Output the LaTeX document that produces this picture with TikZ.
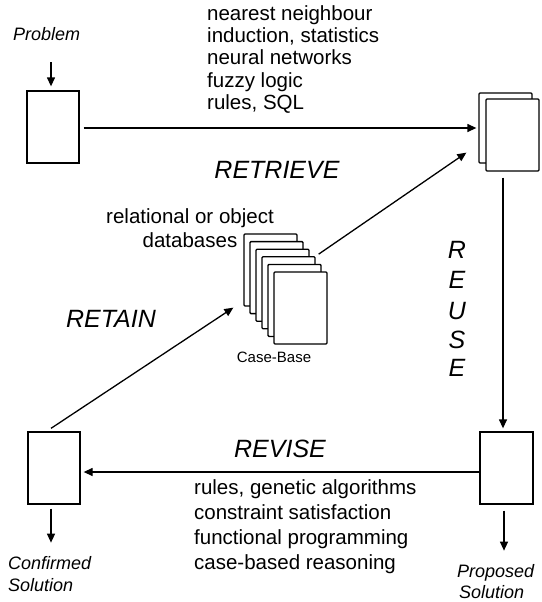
\documentclass[tikz,border=0pt]{standalone}
\usepackage{fontspec}
\setmainfont{Liberation Sans}
\usetikzlibrary{arrows.meta}
\begin{document}
\begin{tikzpicture}[x=1pt,y=-1pt,
  box/.style={draw, line width=1.3pt, fill=white, inner sep=0pt, minimum width=52pt, minimum height=72pt},
  card/.style={box, minimum width=53pt, minimum height=72pt, rounded corners=1pt},
  arr/.style={line width=1.3pt, -{Triangle[length=9pt,width=8pt]}},
  head/.style={inner sep=0pt, font=\fontsize{25}{30}\selectfont\itshape},
  body/.style={inner sep=0pt, font=\fontsize{20.5}{24}\selectfont},
  lab/.style={inner sep=0pt, font=\fontsize{18}{22}\selectfont\itshape},
  cbl/.style={inner sep=0pt, font=\fontsize{15}{18}\selectfont}]
\useasboundingbox (0,0) rectangle (541,602);

% boxes
\node[box] (prob) at (53,127) {};
\node[box] (conf) at (54,468) {};
\node[box, minimum width=53pt] (prop) at (506.5,468) {};
\node[card, minimum height=70pt] (rb) at (505.5,128) {};
\node[card] (rf) at (512.5,135) {};

% case-base stack
\node[card] (c1) at (270.5,270) {};
\node[card] (c2) at (276.5,277.6) {};
\node[card] (c3) at (282.5,285.2) {};
\node[card] (c4) at (288.5,292.8) {};
\node[card] (c5) at (294.5,300.4) {};
\node[card] (c6) at (300.5,308) {};

% labels
\node[lab, anchor=base west] (problab) at (13,41) {Problem};
\node[lab, anchor=base west] (conf1) at (8,569) {Confirmed};
\node[lab, anchor=base west] (conf2) at (8,591) {Solution};
\node[lab, anchor=base west] (prop1) at (457,577) {Proposed};
\node[lab, anchor=base west] (prop2) at (459,598) {Solution};

\node[body, anchor=base west] (t1) at (207,21) {nearest neighbour};
\node[body, anchor=base west] (t2) at (207,43) {induction, statistics};
\node[body, anchor=base west] (t3) at (207,65) {neural networks};
\node[body, anchor=base west] (t4) at (207,87) {fuzzy logic};
\node[body, anchor=base west] (t5) at (207,109) {rules, SQL};

\node[body, anchor=base west] (b1) at (194,494) {rules, genetic algorithms};
\node[body, anchor=base west] (b2) at (194,519) {constraint satisfaction};
\node[body, anchor=base west] (b3) at (194,544) {functional programming};
\node[body, anchor=base west] (b4) at (194,569) {case-based reasoning};

\node[body, anchor=base] (rel1) at (190,223) {relational or object};
\node[body, anchor=base] (rel2) at (190,247) {databases};
\node[cbl, anchor=base] (cblab) at (274,362) {Case-Base};

\node[head] (retrieve) at (277,170) {RETRIEVE};
\node[head] (retain) at (111,319) {RETAIN};
\node[head] (revise) at (280,449) {REVISE};
\node[head] (u1) at (457,250) {R};
\node[head] (u2) at (457,280) {E};
\node[head] (u3) at (457,311) {U};
\node[head] (u4) at (457,340) {S};
\node[head] (u5) at (457,368) {E};

% connectors
\draw[arr] ([xshift=-2pt,yshift=28pt]prob.north) -- ([xshift=-2pt,yshift=4pt]prob.north);
\draw[arr] ([xshift=4pt,yshift=-1pt]prob.east) -- ([xshift=-2pt]rb.west);
\draw[arr] ([xshift=3pt,yshift=2pt]c4.north east) -- ([xshift=-12pt,yshift=11pt]rb.south west);
\draw[arr] ([xshift=-9.5pt,yshift=-6pt]rf.south) -- ([xshift=-3.5pt,yshift=3pt]prop.north);
\draw[arr] ([yshift=-4pt]prop.west) -- ([xshift=3pt,yshift=-4pt]conf.east);
\draw[arr] ([xshift=-3pt,yshift=-4pt]conf.south) -- ([xshift=-3pt,yshift=-38pt]conf.south);
\draw[arr] ([xshift=-2.5pt,yshift=-6pt]prop.south) -- ([xshift=-2.5pt,yshift=-46pt]prop.south);
\draw[arr] ([xshift=-3pt,yshift=3pt]conf.north) -- ([xshift=-10pt,yshift=-1pt]c1.south west);
\end{tikzpicture}
\end{document}
